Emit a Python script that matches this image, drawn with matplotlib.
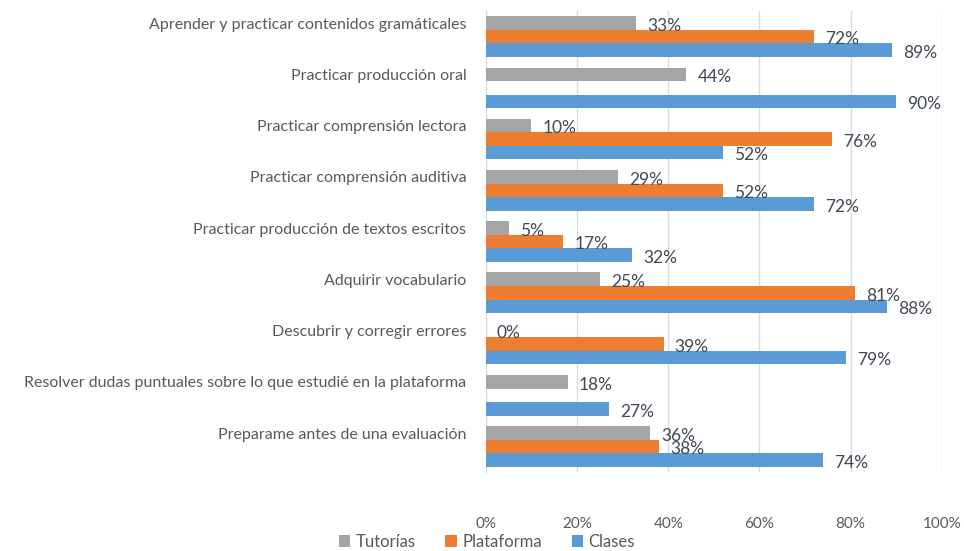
import matplotlib
matplotlib.use("Agg")
import matplotlib.pyplot as plt
import numpy as np

plt.rcParams["font.family"] = ["Lato", "DejaVu Sans"]

categories = [
    "Aprender y practicar contenidos gramáticales",
    "Practicar producción oral",
    "Practicar comprensión lectora",
    "Practicar comprensión auditiva",
    "Practicar producción de textos escritos",
    "Adquirir vocabulario",
    "Descubrir y corregir errores",
    "Resolver dudas puntuales sobre lo que estudié en la plataforma",
    "Preparame antes de una evaluación",
]
series = ["Tutorías", "Plataforma", "Clases"]
tutorias   = [0.33, 0.44, 0.10, 0.29, 0.05, 0.25, 0.00, 0.18, 0.36]
plataforma = [0.72, None, 0.76, 0.52, 0.17, 0.81, 0.39, None, 0.38]
clases     = [0.89, 0.90, 0.52, 0.72, 0.32, 0.88, 0.79, 0.27, 0.74]
colors = ["#a5a5a5", "#ed7d31", "#5b9bd5"]

fig = plt.figure(figsize=(9.64, 5.51), dpi=100)
ax = fig.add_axes([0.504, 0.143, 0.473, 0.837])

y = np.arange(len(categories))
h = 0.265
txt = "#404854"
for k, (vals, c) in enumerate(zip([tutorias, plataforma, clases], colors)):
    yy = y + (k - 1) * h
    v = np.array([np.nan if x is None else x for x in vals])
    ax.barh(yy, np.nan_to_num(v), h, color=c, label=series[k], zorder=3)
    for yi, vi in zip(yy, v):
        if np.isnan(vi):
            continue
        ax.annotate(f"{vi*100:.0f}%", (vi, yi), xytext=(8, -2), textcoords="offset points",
                    ha="left", va="center", fontsize=12.5, color=txt, zorder=4)

ax.set_ylim(len(categories) - 0.5, -0.5)
ax.set_xlim(0, 1)
ax.set_xticks(np.arange(0, 1.01, 0.2))
ax.set_xticklabels([f"{int(t*100)}%" for t in np.arange(0, 1.01, 0.2)])
ax.set_yticks(y - h)
ax.set_yticklabels(categories)
ax.tick_params(axis="y", length=0, pad=14, labelsize=11.5, labelcolor="#595959")
ax.tick_params(axis="x", length=0, pad=32, labelsize=11, labelcolor="#595959")
ax.grid(axis="x", color="#d9dde3", lw=1, zorder=0)
for s in ["top", "right", "bottom"]:
    ax.spines[s].set_visible(False)
ax.spines["left"].set_color("#d9d9d9")

handles, labels = ax.get_legend_handles_labels()
fig.legend(handles, labels, loc="center", bbox_to_anchor=(0.505, 0.017), ncol=3, frameon=False,
           fontsize=12, labelcolor="#595959", handlelength=0.7, handleheight=0.7,
           handletextpad=0.3, columnspacing=1.8)

fig.savefig("out.png", dpi=100)
